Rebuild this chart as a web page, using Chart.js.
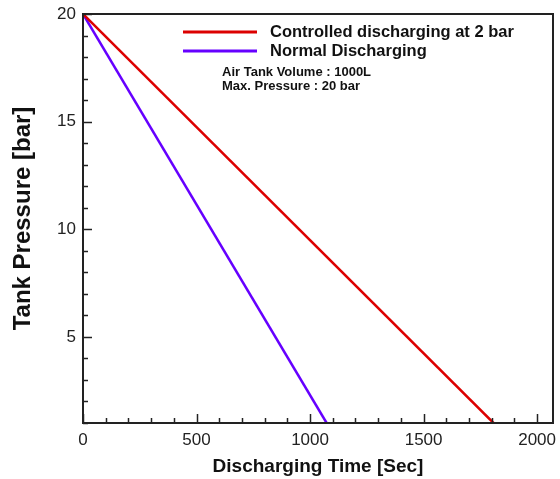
<!DOCTYPE html>
<html>
<head>
<meta charset="utf-8">
<script src="https://cdn.jsdelivr.net/npm/chart.js@4.4.1/dist/chart.umd.min.js"></script>
<style>
  html, body { margin: 0; padding: 0; background: #fff; }
  #wrap { width: 560px; height: 479px; }
</style>
</head>
<body>
<div id="wrap"><canvas id="c"></canvas></div>
<script>
// ── Données ────────────────────────────────────────────────────────────────
const seriesLabels = ['Controlled discharging at 2 bar', 'Normal Discharging'];
const controlledTime     = [0, 1808];
const controlledPressure = [20, 1];
const normalTime         = [0, 1073];
const normalPressure     = [20, 1];
const xTicks = [0, 500, 1000, 1500, 2000];
const yTicks = [5, 10, 15, 20];
const notes = ['Air Tank Volume : 1000L', 'Max. Pressure : 20 bar'];

const FONT = '"Liberation Sans", Arial, sans-serif';
const RED  = '#dc0000';
const BLUE = '#6600ff';

const pts = (xs, ys) => xs.map((x, i) => ({ x, y: ys[i] }));

// ── Ticks intérieurs + cadre + légende ────────────────────────────────────
const frame = {
  id: 'frame',
  afterDatasetsDraw(chart) {
    const { ctx, chartArea: a, scales: { x, y } } = chart;
    ctx.save();
    ctx.strokeStyle = '#222';
    ctx.lineWidth = 1.5;
    for (let v = 0; v <= x.max; v += 100) {
      const px = Math.round(x.getPixelForValue(v)) + 0.5;
      const len = v % 500 === 0 ? 9 : 5;
      ctx.beginPath(); ctx.moveTo(px, a.bottom); ctx.lineTo(px, a.bottom - len); ctx.stroke();
    }
    for (let v = 1; v <= y.max; v += 1) {
      const py = Math.round(y.getPixelForValue(v)) + 0.5;
      const len = v % 5 === 0 ? 9 : 5;
      ctx.beginPath(); ctx.moveTo(a.left, py); ctx.lineTo(a.left + len, py); ctx.stroke();
    }
    ctx.lineWidth = 2;
    ctx.strokeRect(a.left, a.top, a.right - a.left, a.bottom - a.top);

    // légende
    const colors = [RED, BLUE];
    ctx.font = `bold 16.5px ${FONT}`;
    ctx.textBaseline = 'middle';
    ctx.fillStyle = '#111';
    seriesLabels.forEach((lab, i) => {
      const ly = 32 + i * 19;
      ctx.strokeStyle = colors[i];
      ctx.lineWidth = 3;
      ctx.beginPath(); ctx.moveTo(183, ly); ctx.lineTo(257, ly); ctx.stroke();
      ctx.fillText(lab, 270, ly);
    });
    ctx.font = `bold 13px ${FONT}`;
    notes.forEach((t, i) => ctx.fillText(t, 222, 72 + i * 14));
    ctx.restore();
  }
};

new Chart(document.getElementById('c'), {
  type: 'scatter',
  data: {
    datasets: [
      {
        label: seriesLabels[0],
        data: pts(controlledTime, controlledPressure),
        showLine: true, borderColor: RED, borderWidth: 2.5,
        pointRadius: 0, fill: false,
      },
      {
        label: seriesLabels[1],
        data: pts(normalTime, normalPressure),
        showLine: true, borderColor: BLUE, borderWidth: 2.5,
        pointRadius: 0, fill: false,
      },
    ],
  },
  plugins: [frame],
  options: {
    responsive: true, maintainAspectRatio: false, animation: false,
    layout: { padding: { top: 14, right: 7, left: 0, bottom: 0 } },
    plugins: { legend: { display: false }, tooltip: { enabled: false } },
    scales: {
      x: {
        type: 'linear', min: 0, max: 2070,
        grid: { display: false },
        border: { display: false },
        afterBuildTicks: s => { s.ticks = xTicks.map(value => ({ value })); },
        ticks: { maxRotation: 0, padding: -1, color: '#222',
                 callback: v => String(v), font: { family: FONT, size: 17 } },
        title: { display: true, text: 'Discharging Time [Sec]', color: '#111',
                 font: { family: FONT, size: 19, weight: 'bold' }, padding: { top: 0, bottom: 1 } },
        afterFit: s => { s.height = 56; s.paddingLeft = 0; s.paddingRight = 0; },
      },
      y: {
        type: 'linear', min: 1, max: 20,
        grid: { display: false },
        border: { display: false },
        afterBuildTicks: s => { s.ticks = yTicks.map(value => ({ value })); },
        ticks: { padding: -1, color: '#222',
                 callback: v => String(v), font: { family: FONT, size: 17 } },
        title: { display: true, text: 'Tank Pressure [bar]', color: '#111',
                 font: { family: FONT, size: 24, weight: 'bold' }, padding: { top: 9, bottom: 0 } },
        afterFit: s => { s.width = 83; s.paddingTop = 0; s.paddingBottom = 0; },
      },
    },
  },
});
</script>
</body>
</html>
